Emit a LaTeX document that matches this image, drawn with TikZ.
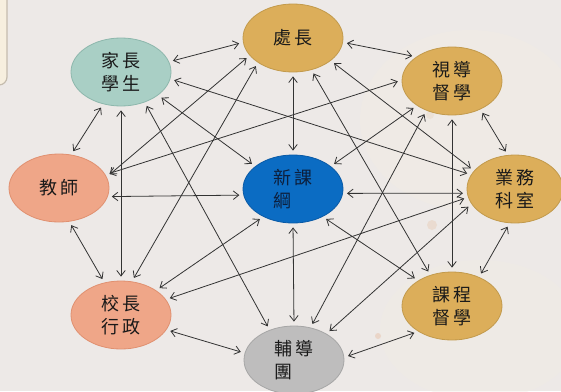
\documentclass[tikz,border=0pt]{standalone}
\usepackage{fontspec}
\newfontfamily\cjk{Noto Sans CJK TC}
\usetikzlibrary{shapes.geometric,arrows.meta}
\definecolor{bg}{HTML}{EDE9E7}
\definecolor{patch}{HTML}{F1ECE4}
\definecolor{dotA}{HTML}{E9D9C8}
\definecolor{dotB}{HTML}{E8C9B4}
\definecolor{dotC}{HTML}{E8D3C2}
\definecolor{lnk}{HTML}{333333}
\definecolor{gold}{HTML}{DCAE5A}
\definecolor{goldb}{HTML}{C29A4C}
\definecolor{teal}{HTML}{A9CFC5}
\definecolor{tealb}{HTML}{8DB7AC}
\definecolor{salmon}{HTML}{EFA688}
\definecolor{salmonb}{HTML}{E09070}
\definecolor{blue}{HTML}{0B6CC3}
\definecolor{blueb}{HTML}{0A5AA6}
\definecolor{bluetext}{HTML}{0D1F3C}
\definecolor{grey}{HTML}{BEBDBD}
\definecolor{greyb}{HTML}{A6A6A6}
\definecolor{boxfill}{HTML}{F7EFDF}
\definecolor{boxline}{HTML}{C5BCAE}
\newcommand\cjkgap{\hspace{2.5pt}}
\begin{document}
\begin{tikzpicture}[x=1pt,y=-1pt,
  nd/.style={ellipse, minimum width=100pt, minimum height=68pt, inner sep=0pt,
    line width=0.8pt, align=left, font=\cjk\fontsize{18}{23}\selectfont, text=black!90},
  link/.style={draw=lnk, line width=0.8pt,
    {Straight Barb[length=5.5pt,width=8.5pt]}-{Straight Barb[length=5.5pt,width=8.5pt]},
    shorten <=4pt, shorten >=4pt}]
\useasboundingbox (0,0) rectangle (561,391);
\fill[bg] (0,0) rectangle (561,391);
% faint watercolour patches
\fill[patch, opacity=0.5] (470,120) ellipse (110 and 90);
\fill[patch, opacity=0.45] (480,330) ellipse (100 and 70);
\fill[dotA, opacity=0.5] (430,115) circle (4);
\fill[dotB, opacity=0.6] (378,336) circle (3);
\fill[dotC, opacity=0.6] (432,225) circle (5);
% top-left box
\draw[fill=boxfill, draw=boxline, line width=1.2pt, rounded corners=8pt] (-30,-30) rectangle (7,85);
% nodes
\node[nd, fill=gold, draw=goldb] (A) at (293,38) {處\cjkgap 長};
\node[nd, fill=teal, draw=tealb] (H) at (121,72) {家\cjkgap 長\\學\cjkgap 生};
\node[nd, fill=gold, draw=goldb] (B) at (452,81) {視\cjkgap 導\\督\cjkgap 學};
\node[nd, fill=salmon, draw=salmonb] (G) at (59,188) {教\cjkgap 師};
\node[nd, fill=blue, draw=blueb, text=bluetext] (N) at (293,189) {新\cjkgap 課\\綱};
\node[nd, fill=gold, draw=goldb, minimum width=96pt] (C) at (515,189) {業\cjkgap 務\\科\cjkgap 室};
\node[nd, fill=salmon, draw=salmonb] (F) at (121,315) {校\cjkgap 長\\行\cjkgap 政};
\node[nd, fill=gold, draw=goldb] (D) at (452,306) {課\cjkgap 程\\督\cjkgap 學};
\node[nd, fill=grey, draw=greyb] (E) at (294,360) {輔\cjkgap 導\\團};
% ring
\draw[link] (H.12) -- (A.185);
\draw[link] (A.-5) -- (B.146);
\draw[link] (B.-45) -- (C.102);
\draw[link] (C.-99) -- (D.47);
\draw[link] (D.217) -- (E.3);
\draw[link] (E.172) -- (F.-18);
\draw[link] (F.117) -- (G.-73);
\draw[link] (G.70) -- (H.241);
% centre
\draw[link] (A.-90) -- (N.90);
\draw[link] (N.-90) -- (E.90);
\draw[link] (G.-10) -- (N.187);
\draw[link] (N.-5) -- (C.185);
\draw[link] (H.-32) -- (N.149);
\draw[link] (N.-43) -- (D.143);
\draw[link] (F.35) -- (N.223);
\draw[link] (N.31) -- (B.215);
% long chords
\draw[link] (H.-90) -- (F.90);
\draw[link] (B.-90) -- (D.90);
\draw[link] (A.202) -- (G.13);
\draw[link] (A.215) -- (F.72);
\draw[link] (A.-60) -- (D.125);
\draw[link] (A.-31) -- (C.156);
\draw[link] (H.-8) -- (C.162);
\draw[link] (H.-52) -- (E.129);
\draw[link] (G.16) -- (B.179);
\draw[link] (F.19) -- (C.190);
\draw[link] (E.63) -- (B.229);
\draw[link] (E.39) -- (C.199);
\end{tikzpicture}
\end{document}
